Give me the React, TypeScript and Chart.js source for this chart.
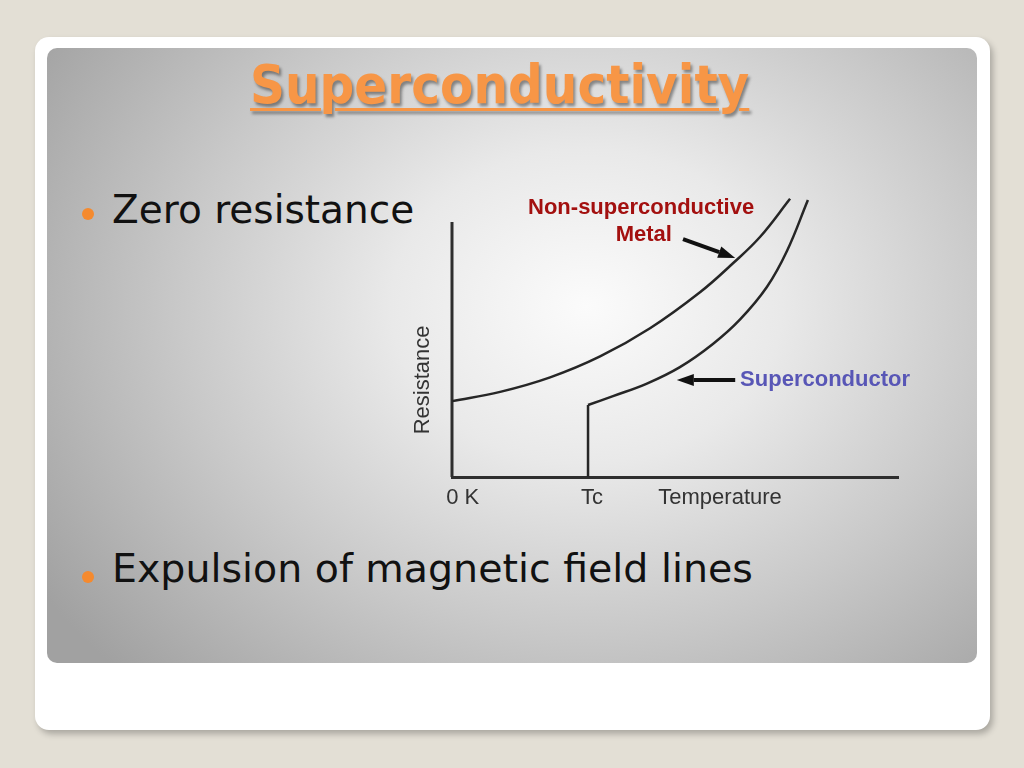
import React, { useEffect, useRef } from "react";
import { Chart, registerables } from "chart.js";

Chart.register(...registerables);

// ---- Data ----
const TITLE = "Superconductivity";
const BULLETS = ["Zero resistance", "Expulsion of magnetic field lines"];

// Non-superconductive metal: temperature (0..100) vs resistance (0..100)
const METAL_T = [0, 10.8, 22.0, 33.2, 44.4, 55.6, 63.0, 69.1, 75.8];
const METAL_R = [27.2, 30.5, 35.7, 43.2, 53.3, 66.2, 76.6, 86.1, 99.7];

// Superconductor: drops to zero at Tc
const TC = 30.5;
const SC_JUMP_R = 25.8;
const SC_T = [30.5, 36.1, 43.7, 51.1, 58.5, 64.6, 70.6, 75.1, 79.8];
const SC_R = [25.8, 29.0, 33.5, 39.4, 47.7, 56.5, 68.1, 81.0, 99.3];

// Resistance axis line height
const R_AXIS_TOP = 91.4;

// Temperature axis tick labels
const X_TICK_VALUES = [2.4, 31.4, 60.1];
const X_TICK_LABELS = ["0 K", "Tc", "Temperature"];
const Y_LABEL = "Resistance";
const Y_LABEL_AT = 34.8;

// Annotations (data coordinates)
const LABEL_TEXTS = ["Non-superconductive", "Metal", "Superconductor"];
const LABEL_T = [42.4, 43.0, 64.6];
const LABEL_R = [96.4, 86.7, 34.8];
const LABEL_COLORS = ["#a3100f", "#a3100f", "#5856b6"];
const LABEL_ALIGN: CanvasTextAlign[] = ["center", "center", "left"];

const ARROW_FROM_T = [51.8, 63.5];
const ARROW_FROM_R = [85.3, 34.8];
const ARROW_TO_T = [63.5, 50.4];
const ARROW_TO_R = [78.5, 34.8];

const LINE_COLOR = "#262626";
const AXIS_COLOR = "#2e2e2e";
const TICK_COLOR = "#333333";

const annotationPlugin = {
  id: "annotationPlugin",
  afterDraw(chart: any) {
    const { ctx, chartArea, scales } = chart;
    const xs = scales.x;
    const ys = scales.y;
    ctx.save();
    // Y axis title
    ctx.save();
    ctx.translate(chartArea.left - 29.5, ys.getPixelForValue(Y_LABEL_AT));
    ctx.rotate(-Math.PI / 2);
    ctx.fillStyle = TICK_COLOR;
    ctx.font = "22px 'Liberation Sans', Arial, sans-serif";
    ctx.textAlign = "center";
    ctx.textBaseline = "middle";
    ctx.fillText(Y_LABEL, 0, 0);
    ctx.restore();

    // Labels
    ctx.font = "bold 22px 'Liberation Sans', Arial, sans-serif";
    ctx.textBaseline = "middle";
    LABEL_TEXTS.forEach((t, i) => {
      ctx.fillStyle = LABEL_COLORS[i];
      ctx.textAlign = LABEL_ALIGN[i];
      ctx.fillText(t, xs.getPixelForValue(LABEL_T[i]), ys.getPixelForValue(LABEL_R[i]));
    });

    // Arrows
    ARROW_FROM_T.forEach((_, i) => {
      const x1 = xs.getPixelForValue(ARROW_FROM_T[i]);
      const y1 = ys.getPixelForValue(ARROW_FROM_R[i]);
      const x2 = xs.getPixelForValue(ARROW_TO_T[i]);
      const y2 = ys.getPixelForValue(ARROW_TO_R[i]);
      const ang = Math.atan2(y2 - y1, x2 - x1);
      const headLen = 17;
      const headHalf = 6;
      const bx = x2 - Math.cos(ang) * headLen;
      const by = y2 - Math.sin(ang) * headLen;
      ctx.strokeStyle = "#111";
      ctx.lineWidth = 4;
      ctx.lineCap = "butt";
      ctx.beginPath();
      ctx.moveTo(x1, y1);
      ctx.lineTo(bx, by);
      ctx.stroke();
      ctx.fillStyle = "#111";
      ctx.beginPath();
      ctx.moveTo(x2, y2);
      ctx.lineTo(bx + Math.sin(ang) * headHalf, by - Math.cos(ang) * headHalf);
      ctx.lineTo(bx - Math.sin(ang) * headHalf, by + Math.cos(ang) * headHalf);
      ctx.closePath();
      ctx.fill();
    });
    ctx.restore();
  },
};

function ResistanceChart() {
  const ref = useRef<HTMLCanvasElement | null>(null);
  useEffect(() => {
    if (!ref.current) return;
    const line = (data: { x: number; y: number }[], smooth: boolean) => ({
      data,
      borderColor: LINE_COLOR,
      borderWidth: 2.5,
      pointRadius: 0,
      fill: false,
      clip: false as any,
      tension: smooth ? 0.4 : 0,
    });
    const chart = new Chart(ref.current, {
      type: "line",
      data: {
        datasets: [
          line(METAL_T.map((t, i) => ({ x: t, y: METAL_R[i] })), true),
          line(SC_T.map((t, i) => ({ x: t, y: SC_R[i] })), true),
          line([{ x: TC, y: 0 }, { x: TC, y: SC_JUMP_R }], false),
          { ...line([{ x: 0, y: 0 }, { x: 0, y: R_AXIS_TOP }], false), borderColor: AXIS_COLOR, borderWidth: 3 },
        ],
      },
      options: {
        animation: false,
        responsive: false,
        events: [],
        layout: { padding: { top: 18, right: 28, left: 0, bottom: 0 } },
        plugins: { legend: { display: false }, tooltip: { enabled: false } },
        scales: {
          x: {
            type: "linear",
            min: 0,
            max: 100,
            afterFit: (s: any) => {
              s.height = 48;
            },
            afterBuildTicks: (s: any) => {
              s.ticks = X_TICK_VALUES.map((v) => ({ value: v }));
            },
            grid: { display: false, drawTicks: false },
            border: { display: true, color: AXIS_COLOR, width: 3 },
            ticks: {
              autoSkip: false,
              maxRotation: 0,
              padding: 8,
              color: TICK_COLOR,
              font: { family: "'Liberation Sans', Arial, sans-serif", size: 22 },
              callback: (_v: any, i: number) => X_TICK_LABELS[i],
            },
          },
          y: {
            type: "linear",
            min: 0,
            max: 100,
            afterFit: (s: any) => {
              s.width = 56;
            },
            grid: { display: false, drawTicks: false },
            border: { display: false },
            ticks: { display: false },
          },
        },
      },
      plugins: [annotationPlugin],
    });
    return () => chart.destroy();
  }, []);
  return <canvas ref={ref} width={530} height={345} style={{ position: "absolute", left: 396, top: 180, width: 530, height: 345 }} />;
}

export default function App() {
  const bulletText: React.CSSProperties = {
    position: "absolute",
    left: 112,
    fontFamily: "'DejaVu Sans', Verdana, sans-serif",
    fontSize: 39,
    lineHeight: 1,
    color: "#111",
    whiteSpace: "nowrap",
  };
  const dot = (top: number): React.CSSProperties => ({
    position: "absolute",
    left: 82,
    top,
    width: 12,
    height: 12,
    borderRadius: "50%",
    background: "#f58a2e",
  });
  return (
    <div style={{ position: "fixed", left: 0, top: 0, width: 1024, height: 768, background: "#e3dfd5", overflow: "hidden" }}>
      <div
        style={{
          position: "absolute",
          left: 35,
          top: 37,
          width: 955,
          height: 693,
          background: "#ffffff",
          borderRadius: 14,
          boxShadow: "3px 4px 6px rgba(0,0,0,0.25)",
        }}
      />
      <div
        style={{
          position: "absolute",
          left: 47,
          top: 48,
          width: 930,
          height: 615,
          borderRadius: 10,
          background:
            "radial-gradient(ellipse 70% 85% at 58% 42%, #fbfbfb 0%, #e9e9e9 30%, #c9c9c9 62%, #a1a1a1 100%)",
        }}
      />
      <div
        style={{
          position: "absolute",
          left: 250,
          top: 58,
          fontFamily: "'DejaVu Sans Condensed', 'DejaVu Sans', sans-serif",
          fontWeight: "bold",
          fontSize: 54,
          lineHeight: 1,
          color: "#f79646",
          textDecoration: "underline",
          textDecorationThickness: 3,
          textUnderlineOffset: 5,
          textShadow: "2px 3px 3px rgba(0,0,0,0.4)",
          whiteSpace: "nowrap",
        }}
      >
        {TITLE}
      </div>
      <div style={dot(208)} />
      <div style={{ ...bulletText, top: 190 }}>{BULLETS[0]}</div>
      <div style={dot(571)} />
      <div style={{ ...bulletText, top: 549, fontSize: 39.5 }}>{BULLETS[1]}</div>
      <ResistanceChart />
    </div>
  );
}
